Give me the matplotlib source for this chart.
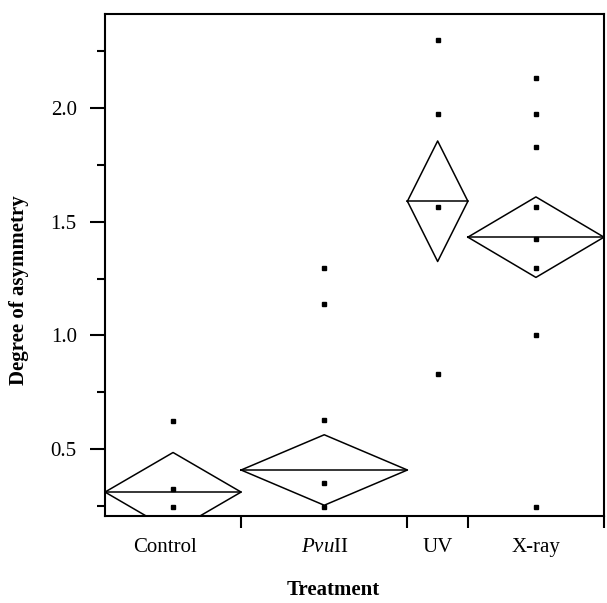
import numpy as np
import matplotlib.pyplot as plt

plt.rcParams['font.family'] = 'Liberation Serif'
plt.rcParams['mathtext.fontset'] = 'custom'
plt.rcParams['mathtext.rm'] = 'Liberation Serif'
plt.rcParams['mathtext.it'] = 'Liberation Serif:italic'

# Treatment groups, sample sizes (set column widths) and group stats
groups = ['Control', r'$\mathit{Pvu}$II', 'UV', 'X-ray']
counts = [9, 11, 4, 9]
means = [0.311, 0.408, 1.59, 1.432]
ci_half = [0.174, 0.155, 0.265, 0.177]

# individual observations per group
control_pts = [0.625, 0.325, 0.245]
pvu_pts = [1.297, 1.139, 0.628, 0.35, 0.245]
uv_pts = [2.30, 1.975, 1.564, 0.83]
xray_pts = [2.131, 1.975, 1.83, 1.563, 1.426, 1.297, 1.0, 0.245]
all_pts = [control_pts, pvu_pts, uv_pts, xray_pts]

edges = np.concatenate([[0], np.cumsum(counts)])
centers = (edges[:-1] + edges[1:]) / 2

fig = plt.figure(figsize=(6.07, 6.03), dpi=100)
ax = fig.add_axes([0.173, 0.144, 0.822, 0.833])

for i in range(len(groups)):
    x0, x1, xc = edges[i], edges[i + 1], centers[i]
    m, h = means[i], ci_half[i]
    ax.plot([x0, xc, x1, xc, x0], [m, m + h, m, m - h, m], color='black', lw=1.1)
    ax.plot([x0, x1], [m, m], color='black', lw=1.1)
    ax.plot([xc] * len(all_pts[i]), all_pts[i], 's', color='black', ms=3.2)

ax.set_xlim(0, edges[-1])
ax.set_ylim(0.205, 2.414)

ax.set_xticks(edges[1:])
ax.set_xticklabels([])
label_pos = centers.copy()
label_pos[0] -= 0.55  # Control label sits a bit left of its column centre
ax.set_xticks(label_pos, minor=True)
ax.set_xticklabels(groups, minor=True, fontsize=15)
ax.tick_params(axis='x', which='major', length=8.6, width=1.5, direction='out')
ax.tick_params(axis='x', which='minor', length=0, pad=15.5)

ax.set_yticks([0.5, 1.0, 1.5, 2.0])
ax.set_yticklabels(['0.5', '1.0', '1.5', '2.0'], fontsize=15)
ax.set_yticks([0.25, 0.75, 1.25, 1.75, 2.25], minor=True)
ax.tick_params(axis='y', which='major', length=11, width=1.5, direction='out', pad=9.4)
ax.tick_params(axis='y', which='minor', length=6, width=1.5, direction='out')

for s in ax.spines.values():
    s.set_linewidth(1.5)

ax.set_xlabel('Treatment', fontsize=15, fontweight='bold')
ax.xaxis.set_label_coords(0.457, -0.127)
ax.set_ylabel('Degree of asymmetry', fontsize=15, fontweight='bold')
ax.yaxis.set_label_coords(-0.152, 0.450)

fig.savefig('out.png', dpi=100)
